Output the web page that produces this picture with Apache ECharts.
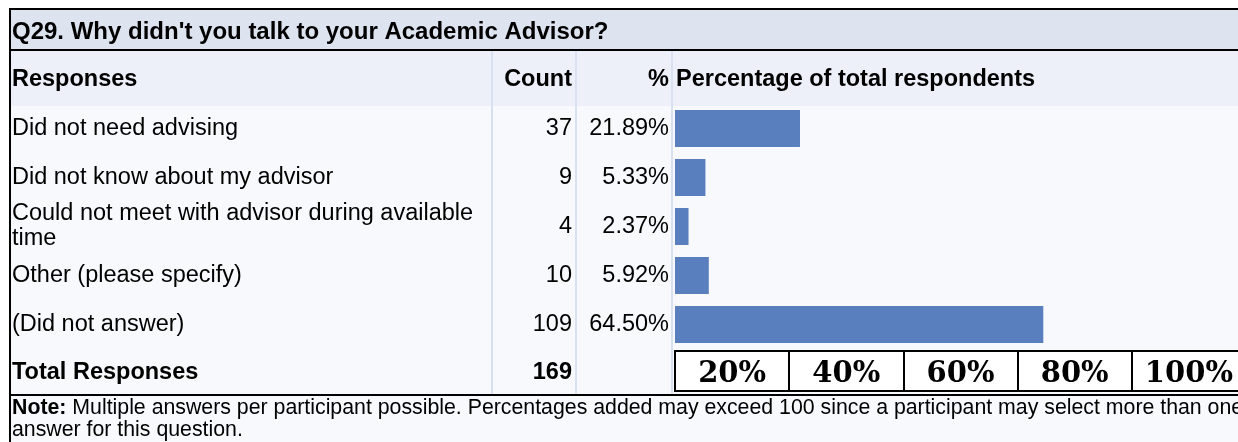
<!DOCTYPE html>
<html>
<head>
<meta charset="utf-8">
<script src="https://cdn.jsdelivr.net/npm/echarts@6/dist/echarts.min.js"></script>
<style>
  html, body { margin: 0; padding: 0; background: #ffffff; }
  #chart { width: 1238px; height: 442px; }
</style>
</head>
<body>
<div id="chart"></div>
<script>
// Survey question Q29 – response breakdown
const questionTitle = "Q29. Why didn't you talk to your Academic Advisor?";
const responses = [
  'Did not need advising',
  'Did not know about my advisor',
  'Could not meet with advisor during available time',
  'Other (please specify)',
  '(Did not answer)'
];
const counts = [37, 9, 4, 10, 109];
const percents = [21.89, 5.33, 2.37, 5.92, 64.50];
const totalResponses = 169;
const scaleLabels = ['20%', '40%', '60%', '80%', '100%'];
const noteText = 'Multiple answers per participant possible. Percentages added may exceed 100 since a participant may select more than one\nanswer for this question.';

// Table layout (pixels)
const L = 10;            // left border
const colCount = 492;    // left edge of Count column
const colPct = 576;      // left edge of % column
const colChart = 672;    // left edge of chart column
const chartLeft = 675;   // 0% position
const chartWidth = 571;  // 0..100%
const rowTop = 104;
const rowPitch = 49;

const SANS = 'Liberation Sans, Arial, sans-serif';
const ink = '#000000';

const chart = echarts.init(document.getElementById('chart'), null, { renderer: 'canvas' });

const bodyBottom = 395;
const noteLines = noteText.split('\n');
const graphic = [
  // backgrounds
  { type: 'rect', z: -10, shape: { x: L, y: 9, width: 1300, height: 42 }, style: { fill: '#dee3f0' } },
  { type: 'rect', z: -10, shape: { x: L, y: 51, width: 1300, height: 55 }, style: { fill: '#edf0f8' } },
  { type: 'rect', z: -10, shape: { x: L, y: 106, width: 1300, height: 340 }, style: { fill: '#f8f9fc' } },
  // column rules
  { type: 'line', z: -5, shape: { x1: colCount, y1: 51, x2: colCount, y2: bodyBottom }, style: { stroke: '#d9e0f0', lineWidth: 2 } },
  { type: 'line', z: -5, shape: { x1: colPct, y1: 51, x2: colPct, y2: bodyBottom }, style: { stroke: '#d9e0f0', lineWidth: 2 } },
  { type: 'line', z: -5, shape: { x1: colChart, y1: 51, x2: colChart, y2: bodyBottom }, style: { stroke: '#d9e0f0', lineWidth: 2 } },
  // frame lines
  { type: 'line', z: 5, shape: { x1: L - 1, y1: 9, x2: 1300, y2: 9 }, style: { stroke: ink, lineWidth: 2 } },
  { type: 'line', z: 5, shape: { x1: L, y1: 50, x2: 1300, y2: 50 }, style: { stroke: ink, lineWidth: 2 } },
  { type: 'line', z: 5, shape: { x1: L, y1: bodyBottom, x2: 1300, y2: bodyBottom }, style: { stroke: ink, lineWidth: 2 } },
  { type: 'line', z: 5, shape: { x1: L, y1: 8, x2: L, y2: 450 }, style: { stroke: ink, lineWidth: 2 } },
  // title
  { type: 'text', z: 6, x: 12, y: 32, style: { text: questionTitle, font: 'bold 24px ' + SANS, fill: ink, verticalAlign: 'middle' } },
  // header row
  { type: 'text', z: 6, x: 12, y: 80, style: { text: 'Responses', font: 'bold 23.5px ' + SANS, fill: ink, verticalAlign: 'middle' } },
  { type: 'text', z: 6, x: 572, y: 80, style: { text: 'Count', font: 'bold 23.5px ' + SANS, fill: ink, align: 'right', verticalAlign: 'middle' } },
  { type: 'text', z: 6, x: 669, y: 80, style: { text: '%', font: 'bold 23.5px ' + SANS, fill: ink, align: 'right', verticalAlign: 'middle' } },
  { type: 'text', z: 6, x: 676, y: 80, style: { text: 'Percentage of total respondents', font: 'bold 23.5px ' + SANS, fill: ink, verticalAlign: 'middle' } },
  // total row
  { type: 'text', z: 6, x: 12, y: 373, style: { text: 'Total Responses', font: 'bold 23.5px ' + SANS, fill: ink, verticalAlign: 'middle' } },
  { type: 'text', z: 6, x: 572, y: 373, style: { text: String(totalResponses), font: 'bold 23.5px ' + SANS, fill: ink, align: 'right', verticalAlign: 'middle' } },
  // note
  { type: 'text', z: 6, x: 12, y: 397, style: {
      text: '{b|Note:} ' + noteLines[0] + '\n' + noteLines[1],
      font: '21.3px ' + SANS, fill: ink, lineHeight: 22,
      rich: { b: { fontWeight: 'bold', fontSize: 21.3, fontFamily: SANS, lineHeight: 22 } }
  } }
];

const labelBase = { fontFamily: SANS, fontSize: 23.5, color: ink, padding: [5, 0, 0, 0] };
const hiddenParts = { axisLine: { show: false }, axisTick: { show: false }, splitLine: { show: false } };

chart.setOption({
  animation: false,
  backgroundColor: '#ffffff',
  graphic: graphic,
  grid: [
    { left: chartLeft, top: rowTop, width: chartWidth, height: rowPitch * responses.length, containLabel: false, outerBoundsMode: 'none' },
    { left: chartLeft, top: 351, width: chartWidth, height: 40, show: true, backgroundColor: '#ffffff', borderColor: ink, borderWidth: 2, outerBoundsMode: 'none' }
  ],
  xAxis: [
    { gridIndex: 0, type: 'value', min: 0, max: 100, show: false },
    {
      gridIndex: 1, type: 'category', data: scaleLabels, boundaryGap: true,
      axisLine: { show: false }, axisTick: { show: false },
      splitLine: { show: true, interval: 0, lineStyle: { color: ink, width: 2 } },
      axisLabel: {
        inside: true, interval: 0, margin: 17, verticalAlign: 'middle',
        fontFamily: 'DejaVu Serif, serif', fontWeight: 'bold', fontSize: 29, color: ink
      }
    }
  ],
  yAxis: [
    Object.assign({
      gridIndex: 0, type: 'category', data: responses, inverse: true, position: 'left', offset: 0,
      axisLabel: Object.assign({}, labelBase, {
        align: 'left', margin: chartLeft - 12, width: 478, overflow: 'break', lineHeight: 25
      })
    }, hiddenParts),
    Object.assign({
      gridIndex: 0, type: 'category', data: counts.map(String), inverse: true, position: 'left', offset: 0,
      axisLabel: Object.assign({}, labelBase, { align: 'right', margin: chartLeft - 572 })
    }, hiddenParts),
    Object.assign({
      gridIndex: 0, type: 'category', data: percents.map(p => p.toFixed(2) + '%'), inverse: true, position: 'left', offset: 0,
      axisLabel: Object.assign({}, labelBase, { align: 'right', margin: chartLeft - 669 })
    }, hiddenParts),
    { gridIndex: 1, type: 'value', show: false }
  ],
  series: [
    {
      type: 'bar', xAxisIndex: 0, yAxisIndex: 0,
      data: percents, barWidth: 37,
      itemStyle: { color: '#5a7fbf' },
      silent: true
    }
  ]
});
</script>
</body>
</html>
